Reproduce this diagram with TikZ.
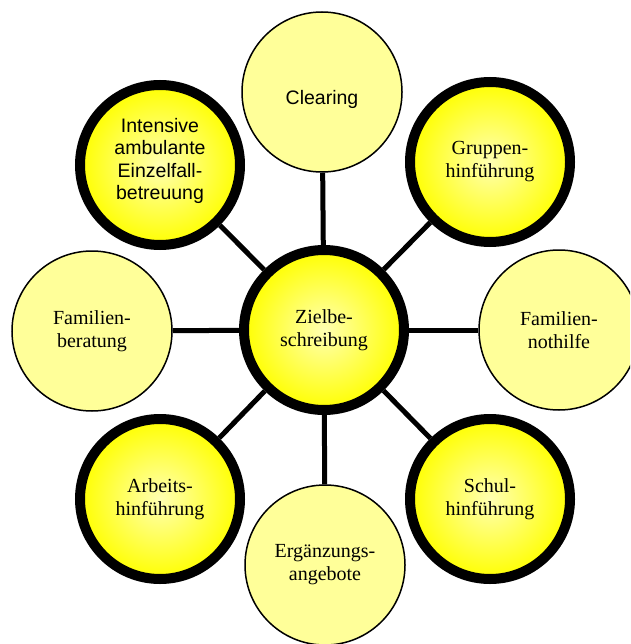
\documentclass[tikz,border=0pt]{standalone}
\usepackage{fontspec}
\setmainfont{Liberation Serif}
\newfontfamily\arialf{Liberation Sans}
\usetikzlibrary{backgrounds}
\definecolor{paleyellow}{RGB}{255,255,153}
\definecolor{glowin}{RGB}{255,255,178}
\definecolor{glowout}{RGB}{255,255,0}
\tikzset{
  plainnode/.style={circle, draw=black, line width=1.5pt, fill=paleyellow,
    minimum size=160pt, inner sep=0pt, align=center,
    font=\fontsize{20}{23}\selectfont},
  hubnode/.style={circle, draw=black, line width=10pt, inner color=glowin,
    outer color=glowout, minimum size=160pt, inner sep=0pt, align=center,
    font=\fontsize{20}{23}\selectfont},
  sansfont/.style={font=\arialf\fontsize{19.5}{22.5}\selectfont},
  textonly/.style={inner sep=0pt, align=center},
  conn/.style={draw=black, line width=5pt}
}
\begin{document}
\begin{tikzpicture}[x=1pt, y=-1pt]
\useasboundingbox (0,0) rectangle (630,644);
\clip (0,0) rectangle (630,644);
\node[hubnode] (center) at (324,330) {Zielbe-\\schreibung};
\node[plainnode] (clearing) at (322,92) {};
\node[textonly, sansfont] (clearingtxt) at (322,99) {Clearing};
\node[hubnode] (gruppen) at (490,162) {Gruppen-\\hinführung};
\node[plainnode] (nothilfe) at (559,330) {Familien-\\nothilfe};
\node[hubnode] (schul) at (490,499) {Schul-\\hinführung};
\node[plainnode] (ergaenzung) at (325,565) {Ergänzungs-\\angebote};
\node[hubnode] (arbeit) at (160,499) {Arbeits-\\hinführung};
\node[plainnode] (beratung) at (92,331) {Familien-\\beratung};
\node[hubnode] (intensiv) at (160,165) {};
\node[textonly, sansfont] (intensivtxt) at (160,161) {Intensive\\ambulante\\Einzelfall-\\betreuung};
\begin{scope}[on background layer]
  \foreach \n in {clearing,gruppen,nothilfe,schul,ergaenzung,arbeit,beratung,intensiv}
    \draw[conn] (center) -- (\n);
\end{scope}
\end{tikzpicture}
\end{document}
